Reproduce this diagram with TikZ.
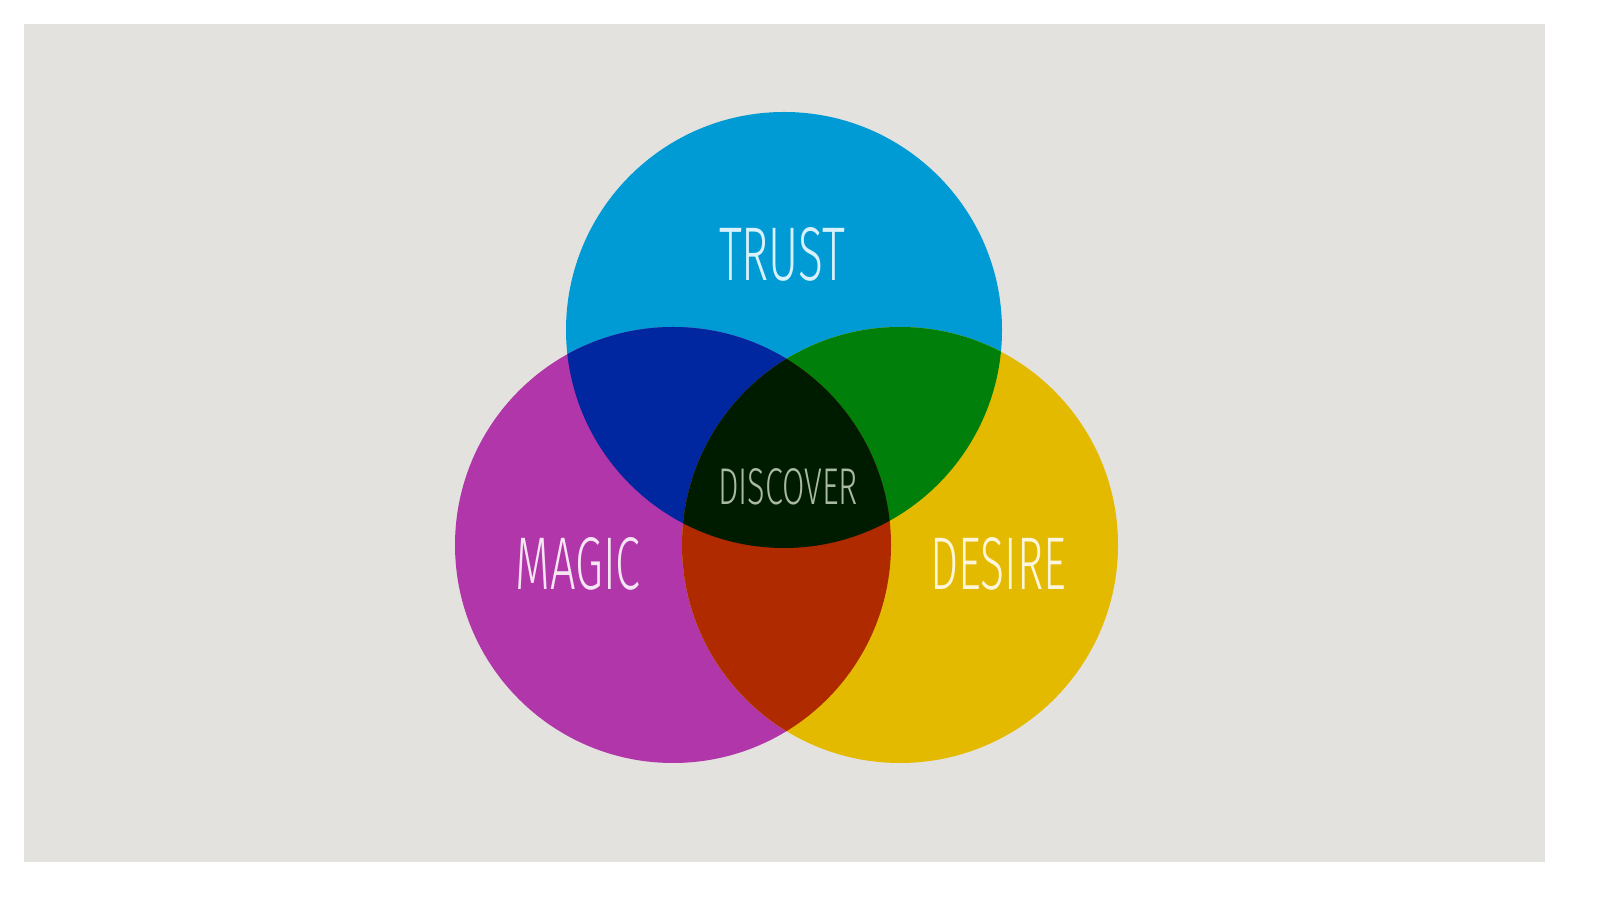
\documentclass[tikz,border=0pt]{standalone}
\usepackage{fontspec}
\newfontfamily\labfont{Fira Sans Light}
\definecolor{bg}{HTML}{E3E2DF}
\definecolor{cblue}{HTML}{009BD4}
\definecolor{cmag}{HTML}{B036A9}
\definecolor{cyel}{HTML}{E3BA00}
\definecolor{cbm}{HTML}{0026A0}
\definecolor{cby}{HTML}{00800A}
\definecolor{cmy}{HTML}{B02A00}
\definecolor{ccen}{HTML}{001C00}
\definecolor{ttrust}{HTML}{D9F1FB}
\definecolor{tdisc}{HTML}{A9B9A3}
\definecolor{tmagic}{HTML}{F6E6F4}
\definecolor{tdesire}{HTML}{FDF6DC}
\tikzset{lab/.style={inner sep=0pt, font=\labfont}}
\begin{document}
\begin{tikzpicture}
\useasboundingbox (0,0) rectangle (16,9.04);
\fill[bg] (0.24,0.42) rectangle (15.45,8.80);
\def\ctop{(7.84,5.74) circle (2.18)}
\def\cleft{(6.73,3.59) circle (2.18)}
\def\cright{(9.00,3.59) circle (2.18)}
\fill[cblue] \ctop;
\fill[cmag] \cleft;
\fill[cyel] \cright;
\begin{scope}
  \clip \ctop;
  \fill[cbm] \cleft;
  \fill[cby] \cright;
\end{scope}
\begin{scope}
  \clip \cleft;
  \fill[cmy] \cright;
\end{scope}
\begin{scope}
  \clip \ctop;
  \clip \cleft;
  \fill[ccen] \cright;
\end{scope}
\node[lab, text=ttrust] (trust) at (7.82,6.50) {\resizebox{1.26cm}{0.53cm}{TRUST}};
\node[lab, text=tdisc] (discover) at (7.88,4.17) {\resizebox{1.40cm}{0.36cm}{DISCOVER}};
\node[lab, text=tmagic] (magic) at (5.78,3.40) {\resizebox{1.25cm}{0.52cm}{MAGIC}};
\node[lab, text=tdesire] (desire) at (9.98,3.40) {\resizebox{1.36cm}{0.52cm}{DESIRE}};
\end{tikzpicture}
\end{document}
